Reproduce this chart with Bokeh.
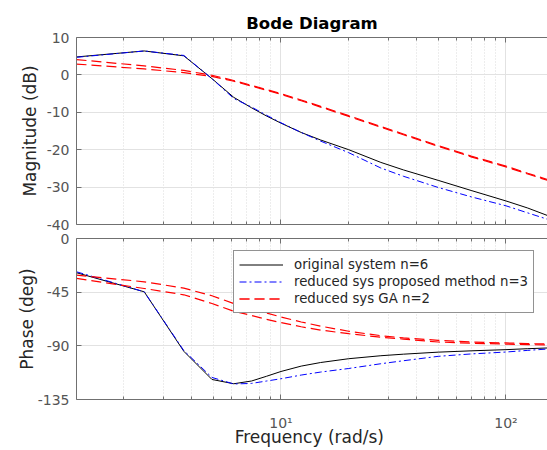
from bokeh.plotting import figure
from bokeh.layouts import column
from bokeh.models import Range1d, FixedTicker, LogAxis, Legend, LegendItem
from bokeh.embed import file_html
from bokeh.resources import INLINE

# ---------------- data ----------------
freq = [1.233, 2.466, 3.699, 4.932, 6.165, 7.398, 8.631, 10.0, 12.3, 15.0,
        20.0, 27.8, 35.0, 50.0, 70.0, 100.0, 125.0, 153.0]

mag_orig = [4.8, 6.4, 5.1, -1.0, -6.0, -8.8, -11.0, -12.9, -15.4, -17.4,
            -20.0, -23.4, -25.4, -28.2, -30.9, -33.7, -35.6, -37.6]
mag_prop = [4.7, 6.4, 5.2, -1.0, -6.3, -8.6, -10.8, -12.8, -15.4, -17.7,
            -20.8, -24.9, -27.1, -30.1, -32.6, -35.0, -36.9, -38.6]
mag_ga_a = [4.1, 2.4, 1.2, -0.1, -1.5, -2.8, -3.9, -5.0, -6.7, -8.4,
            -10.9, -13.8, -15.8, -18.9, -21.7, -24.4, -26.3, -28.0]
mag_ga_b = [2.9, 1.6, 0.6, -0.4, -1.7, -3.0, -4.1, -5.2, -6.9, -8.6,
            -11.1, -14.0, -16.0, -19.1, -21.9, -24.6, -26.5, -28.2]

ph_orig = [-28.7, -44.7, -94.6, -118.2, -121.8, -119.5, -115.5, -111.5, -107.0, -104.0,
           -100.8, -98.3, -97.0, -95.3, -94.2, -93.2, -92.4, -91.8]
ph_prop = [-27.9, -44.7, -94.0, -116.5, -122.0, -121.5, -119.5, -117.6, -114.5, -112.0,
           -109.0, -105.0, -102.5, -98.8, -96.8, -95.2, -93.8, -92.7]
ph_ga_a = [-30.7, -36.3, -41.6, -48.0, -54.5, -58.5, -62.5, -65.8, -70.0, -73.5,
           -77.8, -81.5, -83.3, -85.4, -86.8, -87.6, -88.1, -88.5]
ph_ga_b = [-33.5, -41.9, -47.2, -54.5, -61.0, -64.5, -67.8, -70.5, -74.0, -76.8,
           -79.8, -82.8, -84.3, -86.8, -87.8, -88.5, -89.0, -89.3]

mag_ticks = [-40, -30, -20, -10, 0, 10]
ph_ticks = [-135, -90, -45, 0]
x_major = [10, 100]
x_minor = [2, 3, 4, 5, 6, 7, 8, 9, 20, 30, 40, 50, 60, 70, 80, 90]
x_labels = {10: "10\u00b9", 100: "10\u00b2"}
series_labels = ["original system n=6", "reduced sys proposed method n=3", "reduced sys GA n=2"]

# ---------------- styling ----------------
FONT = "DejaVu Sans"
AX_COL = "#707070"
TICK_COL = "#555555"
LABEL_COL = "#262626"
GRID_COL = "#e2e2e2"
XR = (1.233, 153.0)


def hide_labels(ax):
    ax.major_label_text_font_size = "1px"
    ax.major_label_text_color = None
    ax.major_label_standoff = 0


def make_fig(height, yr, yticks, b_top, b_bottom, ylabel, ylab_standoff):
    p = figure(width=547, height=height, x_axis_type="log",
               x_range=Range1d(*XR), y_range=Range1d(*yr),
               output_backend="svg", toolbar_location=None,
               min_border_left=76, min_border_right=0,
               min_border_top=b_top, min_border_bottom=b_bottom)
    p.outline_line_color = None
    p.background_fill_color = "white"
    p.border_fill_color = "white"

    p.xaxis.ticker = FixedTicker(ticks=x_major, minor_ticks=x_minor)
    p.yaxis.ticker = FixedTicker(ticks=yticks)
    p.yaxis.major_label_overrides = {t: str(t) for t in yticks}

    for ax in p.xaxis + p.yaxis:
        ax.axis_line_color = AX_COL
        ax.major_tick_line_color = AX_COL
        ax.minor_tick_line_color = AX_COL
        ax.major_tick_in = 5
        ax.major_tick_out = 0
        ax.minor_tick_in = 3
        ax.minor_tick_out = 0
        ax.major_label_text_font = FONT
        ax.major_label_text_font_size = "14px"
        ax.major_label_text_color = TICK_COL
        ax.axis_label_text_font = FONT
        ax.axis_label_text_font_size = "17px"
        ax.axis_label_text_font_style = "normal"
        ax.axis_label_text_color = LABEL_COL
    p.yaxis.minor_tick_line_color = None
    p.yaxis.major_label_standoff = 7
    p.yaxis.axis_label = ylabel
    p.yaxis.axis_label_standoff = ylab_standoff

    top = LogAxis(ticker=FixedTicker(ticks=x_major, minor_ticks=x_minor),
                  axis_line_color=AX_COL, major_tick_line_color=AX_COL,
                  minor_tick_line_color=AX_COL, major_tick_in=5, major_tick_out=0,
                  minor_tick_in=3, minor_tick_out=0)
    hide_labels(top)
    p.add_layout(top, "above")

    p.xgrid.grid_line_color = GRID_COL
    p.xgrid.minor_grid_line_color = "#dadada"
    p.xgrid.minor_grid_line_dash = "1 2"
    p.ygrid.grid_line_color = GRID_COL
    return p


def draw(p, y_orig, y_prop, y_ga_a, y_ga_b):
    r1 = p.line(freq, y_orig, line_color="#000000", line_width=1.0)
    r2 = p.line(freq, y_prop, line_color="#0000ff", line_width=1.0, line_dash="7 3 2 3")
    r3 = p.line(freq, y_ga_a, line_color="#ff0000", line_width=1.2, line_dash="10 5")
    r4 = p.line(freq, y_ga_b, line_color="#ff0000", line_width=1.2, line_dash="10 5")
    return r1, r2, r3, r4


# ---------------- magnitude plot ----------------
p1 = make_fig(231, (-40, 10), mag_ticks, 37, 7, "Magnitude (dB)", 4)
hide_labels(p1.below[0])
p1.title.text = "Bode Diagram"
p1.title.align = "center"
p1.title.text_font = FONT
p1.title.text_font_size = "16.5px"
p1.title.text_font_style = "bold"
p1.title.text_color = "#000000"
draw(p1, mag_orig, mag_prop, mag_ga_a, mag_ga_b)

# ---------------- phase plot ----------------
p2 = make_fig(219, (-135, 0), ph_ticks, 7, 51, "Phase (deg)", -2)
bx = p2.below[0]
bx.major_label_overrides = x_labels
bx.major_label_standoff = 15
bx.axis_label = "Frequency  (rad/s)"
bx.axis_label_standoff = -7
k1, k2, k3, k4 = draw(p2, ph_orig, ph_prop, ph_ga_a, ph_ga_b)

legend = Legend(items=[
    LegendItem(label=series_labels[0], renderers=[k1]),
    LegendItem(label=series_labels[1], renderers=[k2]),
    LegendItem(label=series_labels[2], renderers=[k3, k4]),
], location=(157, 86))
legend.label_text_font = FONT
legend.label_text_font_size = "13.3px"
legend.label_text_color = LABEL_COL
legend.glyph_width = 44
legend.glyph_height = 17
legend.label_height = 17
legend.label_standoff = 11
legend.spacing = 0
legend.padding = 5
legend.margin = 0
legend.border_line_color = "#262626"
legend.border_line_width = 1
legend.background_fill_color = "white"
legend.background_fill_alpha = 1.0
p2.add_layout(legend)

layout = column(p1, p2, spacing=0)
open("out.html", "w").write(file_html(layout, INLINE))
